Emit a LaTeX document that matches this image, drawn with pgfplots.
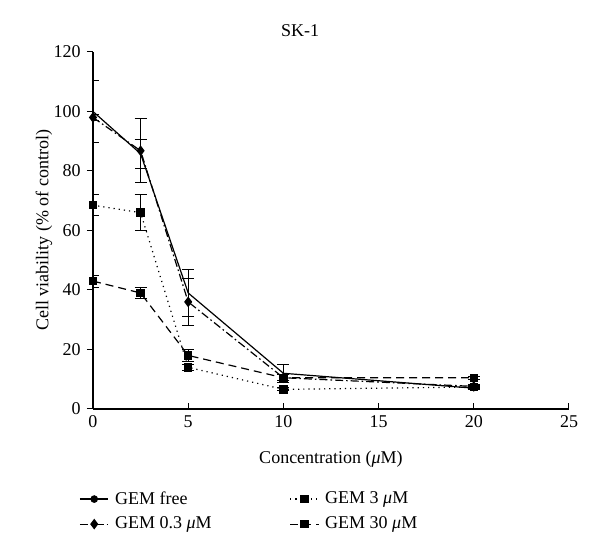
\documentclass[border=0pt]{standalone}
\usepackage{pgfplots}
\pgfplotsset{compat=1.18}
\usepackage{fontspec}
\setmainfont{Liberation Serif}
\begin{document}
\fontsize{9}{11}\selectfont
\begin{tikzpicture}
\begin{axis}[
  scale only axis,
  width=238pt, height=178.5pt,
  xmin=0, xmax=25, ymin=0, ymax=120,
  xtick={0,5,10,15,20,25},
  ytick={0,20,40,60,80,100,120},
  axis lines*=left,
  axis line style={black, line width=0.6pt},
  xtick align=inside, ytick align=outside,
  tick style={black, line width=0.5pt},
  major tick length=3pt,
  /pgf/number format/assume math mode=true,
  tick label style={font=\fontsize{9}{11}\selectfont},
  title={SK-1},
  title style={at={(0.435,1)}, anchor=center, yshift=4.75pt, font=\fontsize{9}{11}\selectfont},
  xlabel={Concentration ({\itshape μ}M)},
  xlabel style={at={(axis description cs:0.5,-0.14)}, anchor=center},
  ylabel={Cell viability (\% of control)},
  ylabel style={at={(axis description cs:-0.103,0.5)}, anchor=center},
  legend columns=2,
  transpose legend,
  legend style={draw=none, fill=none, at={(0,0)}, anchor=north west, xshift=-10pt, yshift=-37pt,
    font=\fontsize{9}{11}\selectfont, row sep=1pt,
    /tikz/every odd column/.append style={column sep=1pt},
    /tikz/every even column/.append style={column sep=37pt}},
  legend cell align=left,
  legend image code/.code={\draw[mark repeat=2,mark phase=2] plot coordinates {(0cm,0cm) (0.25cm,0cm) (0.5cm,0cm)};},
  error bars/error bar style={black, line width=0.5pt, solid},
  error bars/error mark options={black, rotate=90, mark size=3pt, line width=0.5pt, solid},
]
% GEM free
\addlegendimage{black, line width=0.6pt, solid, mark=*, mark size=1.6pt, mark options={solid, fill=black}}
\addlegendentry{GEM free}
\addplot[forget plot, black, line width=0.6pt, solid, mark=none,
  error bars/.cd, y dir=both, y explicit]
  table[x=x, y=y, y error=e] {
x y e
0 100 10.5
2.5 85.8 4.8
5 39 8
10 12 3
20 7 0.5
};
% GEM 0.3
\addplot[black, line width=0.6pt, dash pattern=on 4pt off 1.5pt on 0.8pt off 1.5pt, mark=diamond*, mark size=2.2pt, mark options={solid, fill=black, draw=black},
  error bars/.cd, y dir=both, y explicit]
  table[x=x, y=y, y error=e] {
x y e
0 98 1
2.5 86.8 10.7
5 36 7.8
10 10.5 1
20 7.6 0.5
};
\addlegendentry{GEM 0.3 {\itshape μ}M}
% GEM 3
\addplot[black, line width=0.6pt, dotted, mark=square*, mark size=1.8pt, mark options={solid, fill=black, draw=black},
  error bars/.cd, y dir=both, y explicit]
  table[x=x, y=y, y error=e] {
x y e
0 68.5 3.5
2.5 66 6
5 14 1
10 6.6 0.5
20 7.4 0.5
};
\addlegendentry{GEM 3 {\itshape μ}M}
% GEM 30
\addplot[black, line width=0.6pt, dash pattern=on 4pt off 2.5pt, mark=square*, mark size=1.8pt, mark options={solid, fill=black, draw=black},
  error bars/.cd, y dir=both, y explicit]
  table[x=x, y=y, y error=e] {
x y e
0 43 2
2.5 39 2
5 18 2
10 10.5 1
20 10.5 0.5
};
\addlegendentry{GEM 30 {\itshape μ}M}
\end{axis}
\pgfresetboundingbox
\path[use as bounding box] (-46.5pt,-73.5pt) rectangle (253.5pt,204.5pt);
\end{tikzpicture}
\end{document}
